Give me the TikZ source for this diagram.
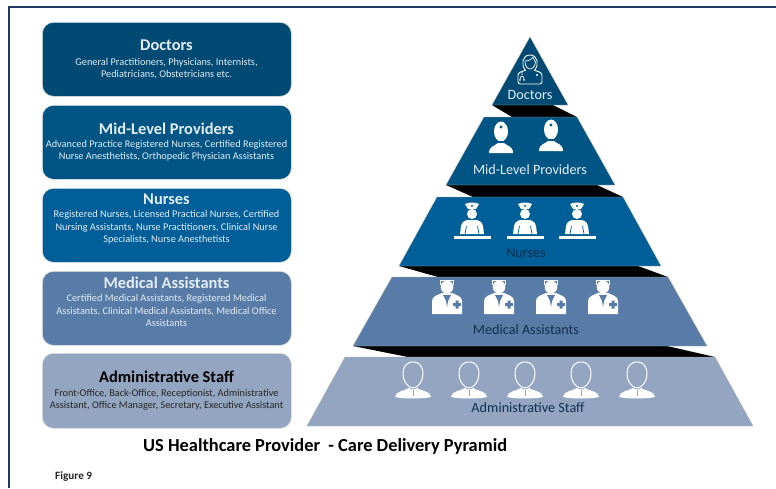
\documentclass[tikz,border=0pt]{standalone}
\usepackage{fontspec}
\setmainfont{Carlito}
\definecolor{cDoc}{HTML}{004A73}
\definecolor{cMid}{HTML}{005585}
\definecolor{cNur}{HTML}{005E98}
\definecolor{cMed}{HTML}{587BA8}
\definecolor{cAdm}{HTML}{93A5C1}
\definecolor{cFrame}{HTML}{1F3864}
\definecolor{cInk}{HTML}{14304F}
\definecolor{cSoft}{HTML}{E4EDF4}
\tikzset{
  x=1pt,y=-1pt,
  infobox/.style={rounded corners=11pt,draw=black!12,line width=.7pt,minimum width=249pt,inner sep=0pt},
  boxtext/.style={align=center,font=\fontsize{10.3}{12.3}\selectfont,text=cSoft,inner sep=0pt},
  boxtitle/.style={font=\fontsize{16.4}{18}\selectfont\bfseries,inner sep=0pt},
  tierlabel/.style={font=\fontsize{14.2}{16}\selectfont,inner sep=0pt},
  tier/.style={draw=white!70!black,line width=.3pt},
  gap/.style={fill=black},
  midicon/.pic={
    \fill[white] (0,9.5) ellipse (7 and 10);
    \fill[cMid] (0,5) circle (1.6);
    \fill[white] (-12,31) .. controls (-12,24) and (-6,24) .. (-3,21) -- (3,21) .. controls (6,24) and (12,24) .. (12,31) -- cycle;
    \draw[cMid,line width=.7pt] (-4,19.5) -- (4,19.5);
  },
  nurseicon/.pic={
    \fill[white] (-7,1) .. controls (-3,-1) and (3,-1) .. (7,1) -- (4,6) -- (-4,6) -- cycle;
    \fill[cNur] (0,3) circle (1.1);
    \fill[white] (0,11) circle (5);
    \fill[white] (-12,31) -- (-11,23) .. controls (-10,18) and (-6,17) .. (-3,17) -- (3,17) .. controls (6,17) and (10,18) .. (11,23) -- (12,31) -- cycle;
    \draw[cNur,line width=.7pt] (-7,31) -- (-5.5,23) (7,31) -- (5.5,23);
    \fill[white] (-18.5,33) rectangle (18.5,36);
  },
  medicon/.pic={
    \draw[white,line width=.8pt] (-6.5,5) -- (-6.5,0) -- (6.5,0) -- (6.5,5);
    \fill[white] (0,7) ellipse (6.3 and 6.5);
    \fill[white] (-15,34) -- (-15,21) .. controls (-15,16) and (-9,15) .. (-5,13) -- (5,13) .. controls (9,15) and (15,16) .. (15,21) -- (15,34) -- cycle;
    \fill[cMed] (-4,15) -- (4,15) -- (1,21) -- (0,27) -- (-1,21) -- cycle;
    \fill[cMed] (8.5,20.5) rectangle (11.5,28.5) (6,23) rectangle (14,26);
  },
  admicon/.pic={
    \draw[white,line width=1pt] (0,0) .. controls (7,0) and (10,5) .. (10,12) .. controls (10,19) and (5,26) .. (0,26) .. controls (-5,26) and (-10,19) .. (-10,12) .. controls (-10,5) and (-7,0) .. (0,0) -- cycle;
    \fill[white] (-18,35) .. controls (-18,29) and (-8,29) .. (-4,26) .. controls (-2,28) and (2,28) .. (4,26) .. controls (8,29) and (18,29) .. (18,35) .. controls (10,37) and (-10,37) .. (-18,35) -- cycle;
    \draw[cAdm,line width=.4pt] (0,28) -- (0,34);
  },
  docicon/.pic={
    \draw[white,line width=.9pt] (-5,15) .. controls (-9,10) and (-8,0) .. (0,0) .. controls (8,0) and (9,10) .. (5,15);
    \draw[white,line width=.7pt] (-5,6) .. controls (-1,6) and (2,4) .. (3,2) .. controls (4,5) and (5,6) .. (5.5,7);
    \draw[white,line width=.7pt] (-5,6) .. controls (-5,12) and (-2,14) .. (0,14) .. controls (2,14) and (5,12) .. (5.5,7);
    \draw[white,line width=.9pt,rounded corners=2.5pt] (-4,15) -- (-12,18) -- (-12,29) -- (12,29) -- (12,18) -- (4,15);
    \draw[white,line width=.7pt] (-8,17) -- (-8,20) (-10,25) .. controls (-11,20) and (-5,20) .. (-6,25);
    \fill[white] (-10,25) circle (.8) (-6,25) circle (.8) (7,20) circle (1.1);
  }
}
\begin{document}
\begin{tikzpicture}
\useasboundingbox (0,0) rectangle (776,488);
\fill[white] (0,0) rectangle (776,488);
% frame
\draw[cFrame,line width=2.2pt] (9,488) -- (9,7) -- (776,7);
% left info boxes
\node[infobox,fill=cDoc,minimum height=74pt,anchor=north west] (b1) at (42,22) {};
\node[infobox,fill=cMid,minimum height=74pt,anchor=north west] (b2) at (42,105) {};
\node[infobox,fill=cNur,minimum height=74pt,anchor=north west] (b3) at (42,188) {};
\node[infobox,fill=cMed,minimum height=74pt,anchor=north west] (b4) at (42,271) {};
\node[infobox,fill=cAdm,minimum height=75pt,anchor=north west] (b5) at (42,353) {};
\node[boxtitle,text=cSoft] (t1) at (166.5,45.5) {Doctors};
\node[boxtext] (d1) at (166.5,68.5) {General Practitioners, Physicians, Internists,\\Pediatricians, Obstetricians etc.};
\node[boxtitle,text=cSoft] (t2) at (166.5,128.5) {Mid-Level Providers};
\node[boxtext] (d2) at (166.5,150.5) {Advanced Practice Registered Nurses, Certified Registered\\Nurse Anesthetists, Orthopedic Physician Assistants};
\node[boxtitle,text=cSoft] (t3) at (166.5,199.5) {Nurses};
\node[boxtext] (d3) at (166.5,227.5) {Registered Nurses, Licensed Practical Nurses, Certified\\Nursing Assistants, Nurse Practitioners, Clinical Nurse\\Specialists, Nurse Anesthetists};
\node[boxtitle,text=cSoft] (t4) at (166.5,282.5) {Medical Assistants};
\node[boxtext] (d4) at (166.5,310.5) {Certified Medical Assistants, Registered Medical\\Assistants, Clinical Medical Assistants, Medical Office\\Assistants};
\node[boxtitle,text=black] (t5) at (166.5,377) {Administrative Staff};
\node[boxtext,text=black!85] (d5) at (166.5,399.5) {Front-Office, Back-Office, Receptionist, Administrative\\Assistant, Office Manager, Secretary, Executive Assistant};
% black gaps
\fill[gap] (492,105) -- (553,105) -- (577,117) -- (512,117) -- cycle;
\fill[gap] (446,185) -- (597,185) -- (623,197) -- (473,197) -- cycle;
\fill[gap] (399,266) -- (638,266) -- (668,277) -- (438,277) -- cycle;
\fill[gap] (353,346) -- (667,346) -- (715,357) -- (408,357) -- cycle;
% pyramid tiers
\fill[cDoc,tier] (530,37) -- (568,105) -- (492,105) -- cycle;
\fill[cMid,tier] (484,117) -- (577,117) -- (615,185) -- (446,185) -- cycle;
\fill[cNur,tier] (437,197) -- (623,197) -- (661,266) -- (399,266) -- cycle;
\fill[cMed,tier] (392,277) -- (668,277) -- (707,346) -- (353,346) -- cycle;
\fill[cAdm,tier] (345,357) -- (715,357) -- (753,426) -- (307,426) -- cycle;
% icons
\pic at (530,55) {docicon};
\pic at (501,122) {midicon};
\pic at (551,120) {midicon};
\foreach \p in {472,525,577} \pic at (\p,203) {nurseicon};
\foreach \p in {447,499,551,603} \pic at (\p,280) {medicon};
\foreach \p in {413,469,525,581,637} \pic at (\p,362) {admicon};
% tier labels
\node[tierlabel,text=cSoft] (l1) at (530,95) {Doctors};
\node[tierlabel,text=cSoft] (l2) at (530,170) {Mid-Level Providers};
\node[tierlabel,text=cInk] (l3) at (526,253) {Nurses};
\node[tierlabel,text=cInk] (l4) at (526,330) {Medical Assistants};
\node[tierlabel,text=cInk] (l5) at (528,408) {Administrative Staff};
% captions
\node[font=\fontsize{18.4}{20}\selectfont\bfseries,anchor=west,inner sep=0pt] (cap) at (143,446.5) {US Healthcare Provider\ \ - Care Delivery Pyramid};
\node[font=\fontsize{11.2}{13}\selectfont\bfseries,anchor=west,inner sep=0pt,text=black!85] (fig) at (55,476.5) {Figure 9};
\end{tikzpicture}
\end{document}
